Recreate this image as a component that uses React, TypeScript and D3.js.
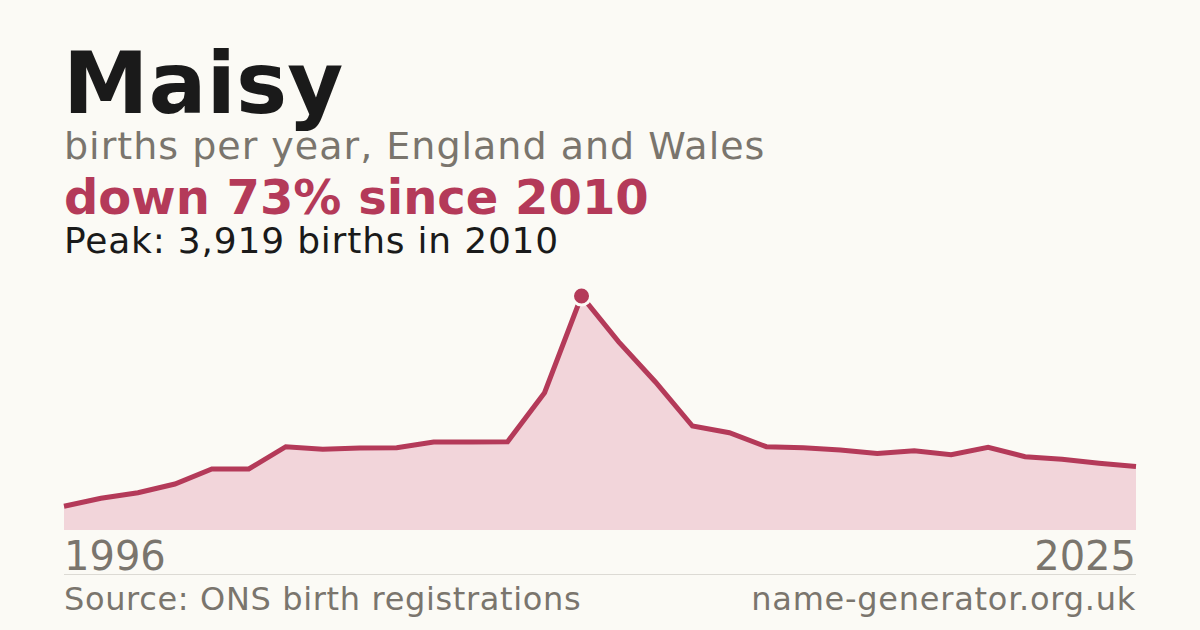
import React, { useEffect, useRef } from 'react'
import * as d3 from 'd3'

const years = d3.range(1996, 2026)
const births = [
  397, 531, 625, 770, 1022, 1022, 1395, 1352, 1373, 1379, 1474, 1474, 1479, 2300, 3919,
  3154, 2479, 1742, 1630, 1395, 1379, 1340, 1281, 1328, 1261, 1385, 1228, 1184, 1117, 1062,
]

const name = 'Maisy'
const subtitle = 'births per year, England and Wales'
const sourceText = 'Source: ONS birth registrations'
const siteText = 'name-generator.org.uk'

const W = 1200
const H = 630
const margin = { left: 64, right: 64 }
const font = '"DejaVu Sans", sans-serif'
const bg = '#fbfaf5'
const red = '#b43a59'
const grey = '#7a756d'

const App: React.FC = () => {
  const svgRef = useRef<SVGSVGElement>(null)

  useEffect(() => {
    document.body.style.margin = '0'
    if (!svgRef.current) return

    const data = years.map((y, i) => ({ year: y, value: births[i] }))
    const peak = data.reduce((a, b) => (b.value > a.value ? b : a))
    const last = data[data.length - 1]
    const change = Math.round((1 - last.value / peak.value) * 100)

    const x = d3
      .scaleLinear()
      .domain([years[0], years[years.length - 1]])
      .range([margin.left, W - margin.right])

    const y = d3.scaleLinear().domain([0, peak.value]).range([530, 296])

    const svg = d3.select(svgRef.current)
    svg.selectAll('*').remove()
    svg.attr('width', W).attr('height', H).style('display', 'block')

    svg.append('rect').attr('width', W).attr('height', H).attr('fill', bg)

    const text = (
      tx: number,
      ty: number,
      s: string,
      size: number,
      color: string,
      weight = 'normal',
      anchor = 'start',
      spacing = 0
    ) =>
      svg
        .append('text')
        .attr('x', tx)
        .attr('y', ty)
        .attr('font-family', font)
        .attr('font-size', size)
        .attr('font-weight', weight)
        .attr('letter-spacing', spacing)
        .attr('fill', color)
        .attr('text-anchor', anchor)
        .text(s)

    text(63, 113, name, 86, '#1a1a1a', 'bold')
    text(64, 159, subtitle, 38, grey, 'normal', 'start', 1)
    text(64, 214, `down ${change}% since ${peak.year}`, 48, red, 'bold')
    text(64, 253, `Peak: ${d3.format(',')(peak.value)} births in ${peak.year}`, 36, '#1a1a1a', 'normal', 'start', 0.8)

    const area = d3
      .area<{ year: number; value: number }>()
      .x((d) => x(d.year))
      .y0(y(0))
      .y1((d) => y(d.value))

    const line = d3
      .line<{ year: number; value: number }>()
      .x((d) => x(d.year))
      .y((d) => y(d.value))

    svg.append('path').datum(data).attr('d', area).attr('fill', '#f2d5da')

    svg
      .append('path')
      .datum(data)
      .attr('d', line)
      .attr('fill', 'none')
      .attr('stroke', red)
      .attr('stroke-width', 5)
      .attr('stroke-linejoin', 'miter')

    // peak marker with a background-coloured halo
    svg
      .append('circle')
      .attr('cx', x(peak.year))
      .attr('cy', y(peak.value))
      .attr('r', 9)
      .attr('fill', red)
      .attr('stroke', bg)
      .attr('stroke-width', 3)

    text(64, 570, String(years[0]), 40, grey)
    text(W - margin.right, 570, String(years[years.length - 1]), 40, grey, 'normal', 'end')

    svg
      .append('line')
      .attr('x1', margin.left)
      .attr('x2', W - margin.right)
      .attr('y1', 574.5)
      .attr('y2', 574.5)
      .attr('stroke', '#dcdad4')
      .attr('stroke-width', 1)

    text(64, 610, sourceText, 32, grey, 'normal', 'start', 0.65)
    text(W - margin.right, 610, siteText, 32, grey, 'normal', 'end', 0.75)
  }, [])

  return <svg ref={svgRef} />
}

export default App
